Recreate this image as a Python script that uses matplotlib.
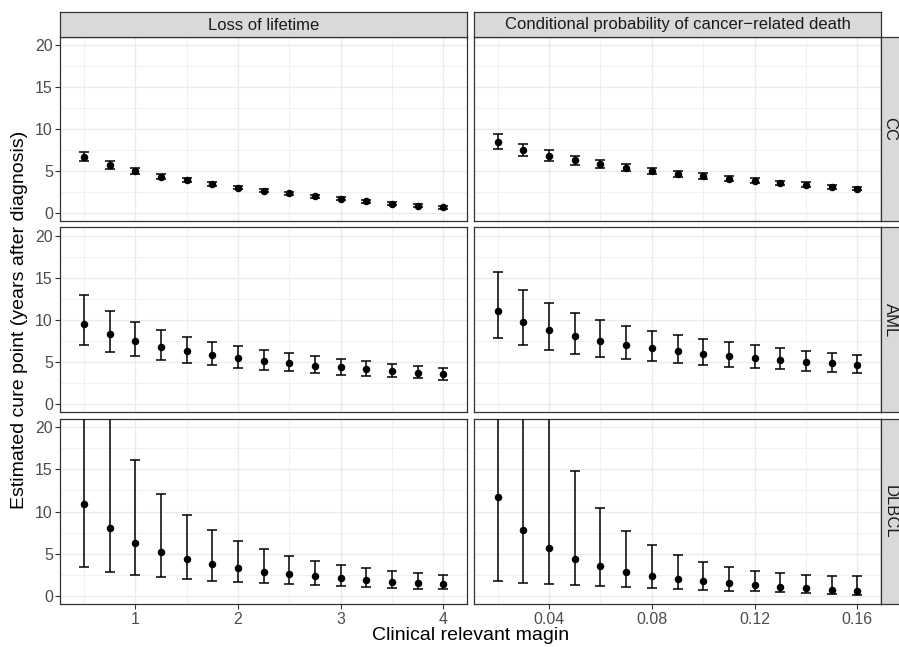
import matplotlib.pyplot as plt
import numpy as np

plt.rcParams['font.family'] = ['Liberation Sans', 'DejaVu Sans']

# margins used for each measure
margin_lol = [0.5, 0.75, 1.0, 1.25, 1.5, 1.75, 2.0, 2.25, 2.5, 2.75, 3.0, 3.25, 3.5, 3.75, 4.0]
margin_prob = [0.02, 0.03, 0.04, 0.05, 0.06, 0.07, 0.08, 0.09, 0.10, 0.11, 0.12, 0.13, 0.14, 0.15, 0.16]

cancers = ['CC', 'AML', 'DLBCL']
measures = ['Loss of lifetime', 'Conditional probability of cancer\u2212related death']

# estimated cure point with lower / upper confidence limits
cc_lol = [6.71, 5.67, 4.95, 4.31, 3.87, 3.43, 2.99, 2.63, 2.32, 1.96, 1.68, 1.36, 1.08, 0.84, 0.64]
cc_lol_lo = [6.15, 5.23, 4.59, 4.03, 3.63, 3.19, 2.79, 2.43, 2.08, 1.76, 1.48, 1.16, 0.88, 0.68, 0.48]
cc_lol_hi = [7.23, 6.15, 5.39, 4.63, 4.15, 3.67, 3.23, 2.87, 2.51, 2.16, 1.88, 1.56, 1.28, 1.00, 0.80]

cc_prob = [8.50, 7.50, 6.83, 6.27, 5.79, 5.31, 4.95, 4.63, 4.35, 4.07, 3.83, 3.55, 3.35, 3.11, 2.87]
cc_prob_lo = [7.62, 6.79, 6.15, 5.67, 5.35, 4.95, 4.59, 4.27, 4.03, 3.75, 3.51, 3.27, 3.11, 2.87, 2.67]
cc_prob_hi = [9.38, 8.26, 7.43, 6.83, 6.27, 5.79, 5.39, 4.99, 4.71, 4.39, 4.11, 3.83, 3.63, 3.35, 3.11]

aml_lol = [9.54, 8.26, 7.43, 6.75, 6.23, 5.79, 5.43, 5.07, 4.79, 4.51, 4.31, 4.07, 3.87, 3.71, 3.51]
aml_lol_lo = [7.03, 6.19, 5.67, 5.19, 4.83, 4.55, 4.27, 4.03, 3.83, 3.63, 3.47, 3.31, 3.15, 3.03, 2.87]
aml_lol_hi = [12.97, 11.06, 9.74, 8.78, 7.98, 7.39, 6.87, 6.43, 5.99, 5.67, 5.35, 5.03, 4.75, 4.51, 4.27]

aml_prob = [11.10, 9.70, 8.78, 8.06, 7.50, 7.03, 6.63, 6.27, 5.95, 5.67, 5.43, 5.19, 4.99, 4.79, 4.59]
aml_prob_lo = [7.86, 6.99, 6.43, 5.95, 5.59, 5.31, 5.03, 4.83, 4.59, 4.39, 4.23, 4.07, 3.91, 3.79, 3.67]
aml_prob_hi = [15.73, 13.49, 11.98, 10.86, 10.02, 9.30, 8.70, 8.18, 7.74, 7.31, 6.95, 6.67, 6.31, 6.07, 5.83]

dlbcl_lol = [10.85, 8.00, 6.30, 5.15, 4.36, 3.72, 3.29, 2.85, 2.53, 2.30, 2.06, 1.86, 1.66, 1.50, 1.39]
dlbcl_lol_lo = [3.37, 2.81, 2.50, 2.22, 1.98, 1.78, 1.62, 1.50, 1.39, 1.27, 1.15, 1.03, 0.95, 0.83, 0.75]
dlbcl_lol_hi = [27.5, 23.5, 16.16, 12.12, 9.58, 7.84, 6.53, 5.58, 4.75, 4.16, 3.68, 3.29, 2.97, 2.69, 2.46]

dlbcl_prob = [11.68, 7.80, 5.66, 4.36, 3.49, 2.85, 2.38, 2.02, 1.70, 1.47, 1.23, 1.03, 0.87, 0.67, 0.51]
dlbcl_prob_lo = [1.70, 1.47, 1.39, 1.31, 1.19, 1.07, 0.95, 0.83, 0.71, 0.59, 0.51, 0.44, 0.32, 0.24, 0.12]
dlbcl_prob_hi = [30.0, 26.0, 23.0, 14.85, 10.38, 7.72, 5.98, 4.79, 4.00, 3.45, 2.97, 2.65, 2.46, 2.38, 2.38]

panels = {
    ('CC', 0): (cc_lol, cc_lol_lo, cc_lol_hi),
    ('CC', 1): (cc_prob, cc_prob_lo, cc_prob_hi),
    ('AML', 0): (aml_lol, aml_lol_lo, aml_lol_hi),
    ('AML', 1): (aml_prob, aml_prob_lo, aml_prob_hi),
    ('DLBCL', 0): (dlbcl_lol, dlbcl_lol_lo, dlbcl_lol_hi),
    ('DLBCL', 1): (dlbcl_prob, dlbcl_prob_lo, dlbcl_prob_hi),
}
xs = [margin_lol, margin_prob]
xlims = [(0.27, 4.23), (0.0108, 0.1692)]
xmajor = [[1, 2, 3, 4], [0.04, 0.08, 0.12, 0.16]]
xminor = [[0.5, 1.5, 2.5, 3.5], [0.02, 0.06, 0.10, 0.14]]
xlabels = [['1', '2', '3', '4'], ['0.04', '0.08', '0.12', '0.16']]

W, H = 899, 647
fig = plt.figure(figsize=(W / 100, H / 100), dpi=100)

def box(x0, y0, x1, y1):
    # pixel box (top-left origin) -> figure fraction
    return [x0 / W, 1 - y1 / H, (x1 - x0) / W, (y1 - y0) / H]

col_x = [(60.5, 467), (474, 881)]
row_y = [(37, 221), (227.5, 412), (419, 604)]
border = '#333333'
grid = '#EBEBEB'

for i, cancer in enumerate(cancers):
    for j in range(2):
        ax = fig.add_axes(box(col_x[j][0], row_y[i][0], col_x[j][1], row_y[i][1]))
        est, lo, hi = panels[(cancer, j)]
        est = np.array(est)
        err = [est - np.array(lo), np.array(hi) - est]
        ax.errorbar(xs[j], est, yerr=err, fmt='o', color='black', ms=4.4,
                    elinewidth=1.1, capsize=3.9, capthick=1.1, zorder=3)
        ax.set_xlim(*xlims[j])
        ax.set_ylim(-1, 21)
        ax.set_xticks(xmajor[j])
        ax.set_xticks(xminor[j], minor=True)
        ax.set_yticks([0, 5, 10, 15, 20])
        ax.set_yticks([2.5, 7.5, 12.5, 17.5], minor=True)
        ax.grid(which='major', color=grid, lw=1.0, zorder=0)
        ax.grid(which='minor', color=grid, lw=0.5, zorder=0)
        ax.set_axisbelow(True)
        for s in ax.spines.values():
            s.set_color(border)
            s.set_linewidth(0.9)
        ax.tick_params(which='minor', length=0)
        ax.tick_params(which='major', length=3.5, width=0.8, color=border,
                       labelcolor='#4D4D4D', labelsize=11.5, pad=2)
        if j == 0:
            ax.set_yticklabels(['0', '5', '10', '15', '20'])
        else:
            ax.tick_params(axis='y', length=0, labelleft=False)
        if i == 2:
            ax.set_xticklabels(xlabels[j])
        else:
            ax.tick_params(axis='x', length=0, labelbottom=False)

        # strips
        if i == 0:
            st = fig.add_axes(box(col_x[j][0], 12, col_x[j][1], 37))
            st.set_facecolor('#D9D9D9')
            st.set_xticks([]); st.set_yticks([])
            for s in st.spines.values():
                s.set_color(border); s.set_linewidth(0.9)
            st.text(0.5, 0.48, measures[j], ha='center', va='center',
                    fontsize=12, color='#1A1A1A', transform=st.transAxes)
        if j == 1:
            st = fig.add_axes(box(881, row_y[i][0], 906, row_y[i][1]))
            st.set_facecolor('#D9D9D9')
            st.set_xticks([]); st.set_yticks([])
            for s in st.spines.values():
                s.set_color(border); s.set_linewidth(0.9)
            st.text(0.36, 0.5, cancer, ha='center', va='center', rotation=-90,
                    fontsize=12, color='#1A1A1A', transform=st.transAxes)

fig.text(470.5 / W, 1 - 636 / H, 'Clinical relevant magin', ha='center', va='center',
         fontsize=14)
fig.text(20 / W, 1 - 320 / H, 'Estimated cure point (years after diagnosis)',
         ha='center', va='center', rotation=90, fontsize=14)

fig.savefig('out.png', dpi=100)
